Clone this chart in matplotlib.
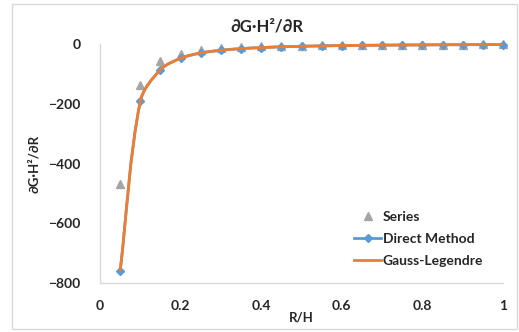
import numpy as np
import matplotlib
matplotlib.use('Agg')
import matplotlib.pyplot as plt
from matplotlib.path import Path
from matplotlib.patches import PathPatch, Rectangle
from matplotlib.lines import Line2D

plt.rcParams['font.family'] = ['Lato', 'DejaVu Sans']

# values
r_h = [0.05, 0.10, 0.15, 0.20, 0.25, 0.30, 0.35, 0.40, 0.45, 0.50,
       0.55, 0.60, 0.65, 0.70, 0.75, 0.80, 0.85, 0.90, 0.95, 1.00]
series = [-468, -137, -58, -32, -20, -14, -10, -8, -6.5, -5.5,
          -4.5, -3.8, -3.2, -2.8, -2.4, -2.1, -1.9, -1.7, -1.5, -1.4]
direct = [-760, -192, -86, -48, -30, -21, -15.5, -12, -9.4, -7.6,
          -6.3, -5.3, -4.5, -3.9, -3.4, -3.0, -2.6, -2.35, -2.1, -1.9]
gauss = [-760, -192, -86, -48, -30, -21, -15.5, -12, -9.4, -7.6,
         -6.3, -5.3, -4.5, -3.9, -3.4, -3.0, -2.6, -2.35, -2.1, -1.9]

c_gray = '#A5A5A5'
c_blue = '#5B9BD5'
c_orange = '#ED7D31'
c_text = '#262626'


def smooth_path(ax, x, y):
    # excel-like smoothed line, built in pixel space (chord weighted tangents)
    p = ax.transData.transform(np.column_stack([x, y]).astype(float))
    n = len(p)
    d = np.hypot(*np.diff(p, axis=0).T)
    verts = [p[0]]
    codes = [Path.MOVETO]
    for i in range(n - 1):
        if i > 0:
            w = d[i] / (d[i - 1] + d[i])
            c1 = p[i] + (p[i + 1] - p[i - 1]) * w / 3
        else:
            c1 = p[i] + (p[i + 1] - p[i]) / 3
        if i + 2 < n:
            w = d[i] / (d[i] + d[i + 1])
            c2 = p[i + 1] - (p[i + 2] - p[i]) * w / 3
        else:
            c2 = p[i + 1] - (p[i + 1] - p[i]) / 3
        verts += [c1, c2, p[i + 1]]
        codes += [Path.CURVE4] * 3
    verts = ax.transData.inverted().transform(np.array(verts))
    return Path(verts, codes)


fig = plt.figure(figsize=(5.19, 3.32), dpi=100)
fig.patches.append(Rectangle((12 / 519, 3 / 332), 505 / 519, 325 / 332,
                             transform=fig.transFigure, fill=False,
                             edgecolor='#d9d9d9', linewidth=1))
ax = fig.add_axes([100 / 519, 1 - 283 / 332, 403 / 519, 239 / 332])
ax.set_xlim(0, 1)
ax.set_ylim(-800, 0)

ax.plot(r_h, series, linestyle='none', marker='^', markersize=5.5,
        color=c_gray, clip_on=False, zorder=3)
ax.add_patch(PathPatch(smooth_path(ax, r_h, direct), fill=False,
                       edgecolor=c_blue, linewidth=2, zorder=4,
                       clip_on=False))
ax.plot(r_h, direct, linestyle='none', marker='D', markersize=4.5,
        color=c_blue, clip_on=False, zorder=4)
ax.add_patch(PathPatch(smooth_path(ax, r_h, gauss), fill=False,
                       edgecolor=c_orange, linewidth=2, zorder=5,
                       clip_on=False))

ax.set_xticks([0, 0.2, 0.4, 0.6, 0.8, 1])
ax.set_xticklabels(['0', '0.2', '0.4', '0.6', '0.8', '1'])
ax.set_yticks([-800, -600, -400, -200, 0])
ax.tick_params(length=0, labelsize=10, labelcolor=c_text)
ax.tick_params(axis='x', pad=12)
ax.tick_params(axis='y', pad=14)
for lab in ax.get_xticklabels() + ax.get_yticklabels():
    lab.set_fontweight('bold')

for s in ['top', 'right']:
    ax.spines[s].set_visible(False)
for s in ['left', 'bottom']:
    ax.spines[s].set_color('#d9d9d9')
    ax.spines[s].set_linewidth(1)

# title sits centred on the whole chart area, like excel does
fig.text(267 / 519, 1 - 27 / 332, '∂G·H²/∂R', ha='center', va='center',
         fontsize=12, fontweight='bold', color=c_text)
ax.set_xlabel('R/H', fontsize=9.5, fontweight='bold', color=c_text, labelpad=0)
ax.set_ylabel('∂G·H²/∂R', fontsize=9.5, fontweight='bold', color=c_text,
              labelpad=6)

handles = [
    Line2D([], [], linestyle='none', marker='^', markersize=5.5, color=c_gray),
    Line2D([], [], color=c_blue, linewidth=2, marker='D', markersize=4.5),
    Line2D([], [], color=c_orange, linewidth=2),
]
leg = ax.legend(handles, ['Series', 'Direct Method', 'Gauss-Legendre'],
                loc='lower right', bbox_to_anchor=(0.965, 0.045), frameon=False,
                prop={'size': 10, 'weight': 'bold'}, handlelength=1.9,
                handletextpad=0.15, labelspacing=0.7, borderaxespad=0)
for t in leg.get_texts():
    t.set_color(c_text)

fig.savefig('out.png', dpi=100)
